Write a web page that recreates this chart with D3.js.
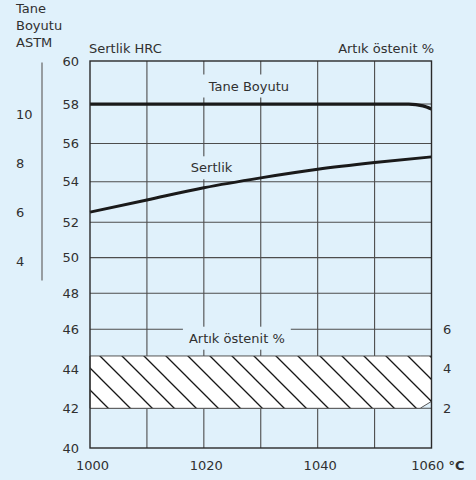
<!DOCTYPE html>
<html><head><meta charset="utf-8">
<script src="https://cdn.jsdelivr.net/npm/d3@7"></script>
<style>
body{margin:0;background:#e0f1fb}
svg{display:block}
text{font-family:"DejaVu Sans",Verdana,sans-serif;font-size:13px;fill:#303030}
</style>
</head><body>
<svg id="c" width="476" height="480"></svg>
<script>
// ---- data ----
const tempGrid = [1000,1010,1020,1030,1040,1050,1060];
const tempLabels = [1000,1020,1040,1060];
const hrcTicks = [40,42,44,46,48,50,52,54,56,58,60];
const hrcLabels = [40,42,44,46,48,50,52,54,56,58,60];
const astmLabels = [4,6,8,10];
const austLabels = [2,4,6];
const hardnessT = [1000,1010,1020,1030,1040,1050,1060];
const hardness = [52.5,53.1,53.7,54.2,54.65,55.0,55.3];
const grainT = [1000,1010,1020,1030,1040,1050,1056,1058.5,1060];
const grainSize = [10.4,10.4,10.4,10.4,10.4,10.4,10.4,10.33,10.2];
const austT = [1000,1010,1020,1030,1040,1050,1058,1060];
const austHigh = [4.65,4.65,4.65,4.65,4.65,4.65,4.65,4.65];
const austLow = [2,2,2,2,2,2,2,2.35];

// ---- scales ----
const svg = d3.select("#c");
const x = d3.scaleLinear().domain([1000,1060]).range([90,431.5]);
// reference grid is slightly irregular: polylinear scale
const y = d3.scaleLinear().domain(hrcTicks)
  .range([448,408.3,369,329.3,293.3,257.6,222.3,181.7,143.5,104,61]);
const astm = d3.scaleLinear().domain([4,10]).range([261,114]);
const aust = d3.scaleLinear().domain([2,6]).range([y(42),y(46)]);

const gridColor = "#4d4d4d";
const g = svg.append("g");

// grid
g.selectAll("line.h").data(hrcTicks.filter(d=>d>40&&d<60)).join("line")
  .attr("x1",x(1000)).attr("x2",x(1060)).attr("y1",d=>y(d)).attr("y2",d=>y(d))
  .attr("stroke",gridColor).attr("stroke-width",1.1);
g.selectAll("line.v").data(tempGrid.filter(d=>d>1000&&d<1060)).join("line")
  .attr("x1",d=>x(d)).attr("x2",d=>x(d)).attr("y1",y(60)).attr("y2",y(40))
  .attr("stroke",gridColor).attr("stroke-width",1.1);

// in-plot labels with background boxes
function boxLabel(txt, px, py){
  const grp = svg.append("g");
  const r = grp.append("rect").attr("fill","#e0f1fb");
  const t = grp.append("text").attr("x",px).attr("y",py).text(txt);
  const b = t.node().getBBox();
  r.attr("x",b.x-6).attr("y",b.y-4).attr("width",b.width+12).attr("height",b.height+8);
  return grp;
}
boxLabel("Tane Boyutu", x(1020)+5, 90.5);
boxLabel("Sertlik", x(1020)-13, 172.3);
boxLabel("Artık östenit %", x(1010)+42, 342.7);

// hatch pattern
const defs = svg.append("defs");
const pat = defs.append("pattern").attr("id","hatch").attr("patternUnits","userSpaceOnUse")
  .attr("width",22).attr("height",22).attr("x",x(1000)+10).attr("y",aust(4.65));
pat.append("rect").attr("width",22).attr("height",22).attr("fill","#fff");
pat.append("path").attr("d","M0,0L22,22M-3,19L3,25M19,-3L25,3")
  .attr("stroke","#111").attr("stroke-width",1.3);

const band = d3.area().x((d,i)=>x(austT[i])).y0((d,i)=>aust(austLow[i])).y1((d,i)=>aust(austHigh[i]));
svg.append("path").datum(austT).attr("d",band)
  .attr("fill","url(#hatch)").attr("stroke","#555").attr("stroke-width",1);

// curves
const hLine = d3.line().x((d,i)=>x(hardnessT[i])).y((d,i)=>y(hardness[i])).curve(d3.curveMonotoneX);
svg.append("path").datum(hardness).attr("d",hLine).attr("fill","none")
  .attr("stroke","#1a1a1a").attr("stroke-width",3);
const gLine = d3.line().x((d,i)=>x(grainT[i])).y((d,i)=>astm(grainSize[i])).curve(d3.curveMonotoneX);
svg.append("path").datum(grainSize).attr("d",gLine).attr("fill","none")
  .attr("stroke","#1a1a1a").attr("stroke-width",3.2);

// frame
svg.append("rect").attr("x",x(1000)).attr("y",y(60)).attr("width",x(1060)-x(1000)).attr("height",y(40)-y(60))
  .attr("fill","none").attr("stroke","#2a2a2a").attr("stroke-width",1.4);

// HRC labels
svg.selectAll("text.hrc").data(hrcLabels).join("text").attr("class","hrc")
  .attr("x",79).attr("y",d=>y(d)).attr("dy","0.36em").attr("text-anchor","end").text(d=>d);

// ASTM axis
svg.append("line").attr("x1",42).attr("x2",42).attr("y1",astm(12.1)).attr("y2",astm(3.2))
  .attr("stroke","#666").attr("stroke-width",1.2);
svg.selectAll("text.astm").data(astmLabels).join("text").attr("class","astm")
  .attr("x",16).attr("y",d=>astm(d)).attr("dy","0.36em").text(d=>d);

// Austenite labels (right)
svg.selectAll("text.aust").data(austLabels).join("text").attr("class","aust")
  .attr("x",443).attr("y",d=>aust(d)).attr("dy","0.36em").text(d=>d);

// x labels
svg.selectAll("text.xl").data(tempLabels.slice(0,-1)).join("text").attr("class","xl")
  .attr("x",d=>x(d)+2.5).attr("y",469.5).attr("text-anchor","middle").text(d=>d);
const last = svg.append("text").attr("x",x(1060)+33).attr("y",470).attr("text-anchor","end");
last.append("tspan").text(tempLabels[tempLabels.length-1]+" ");
last.append("tspan").attr("font-weight","bold").text("°C");

// titles
svg.append("text").attr("x",89).attr("y",53).text("Sertlik HRC");
svg.append("text").attr("x",434).attr("y",53).attr("text-anchor","end").text("Artık östenit %");
const tt = svg.append("text").attr("x",16).attr("y",13);
["Tane","Boyutu","ASTM"].forEach((s,i)=>tt.append("tspan").attr("x",16).attr("dy",i?16.8:0).text(s));
</script>
</body></html>
